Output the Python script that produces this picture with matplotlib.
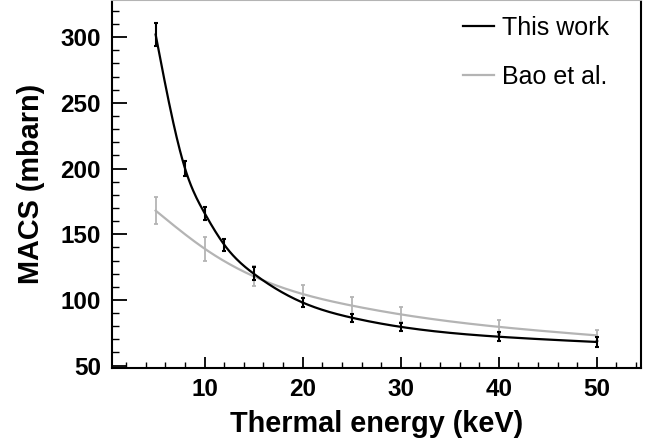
import numpy as np
import matplotlib
matplotlib.use("Agg")
import matplotlib.pyplot as plt
from matplotlib.ticker import MultipleLocator

# Data
this_x = [5, 8, 10, 12, 15, 20, 25, 30, 40, 50]
this_y = [302, 200, 166, 142, 120, 98, 86.5, 79.5, 72, 68]
this_err = [9, 6, 5, 4.5, 5, 3.5, 3, 3, 3.3, 3.8]

bao_x = [5, 10, 15, 20, 25, 30, 40, 50]
bao_y = [168, 139, 118, 104.5, 95.7, 89, 79.5, 73]
bao_err = [10, 9, 7.6, 7, 6.4, 6, 5.3, 4.3]

x_ticks = [10, 20, 30, 40, 50]
y_ticks = [50, 100, 150, 200, 250, 300]

BLACK = "#000000"
GRAY = "#b4b4b4"


def smooth(xs, ys, n=400):
    """Natural cubic spline through the points (drawing style, like ROOT 'C')."""
    x = np.asarray(xs, float)
    y = np.asarray(ys, float)
    m = len(x)
    h = np.diff(x)
    A = np.zeros((m, m))
    b = np.zeros(m)
    A[0, 0] = A[-1, -1] = 1.0
    for i in range(1, m - 1):
        A[i, i - 1] = h[i - 1]
        A[i, i] = 2 * (h[i - 1] + h[i])
        A[i, i + 1] = h[i]
        b[i] = 3 * ((y[i + 1] - y[i]) / h[i] - (y[i] - y[i - 1]) / h[i - 1])
    c = np.linalg.solve(A, b)
    xx = np.linspace(x[0], x[-1], n)
    idx = np.clip(np.searchsorted(x, xx) - 1, 0, m - 2)
    dx = xx - x[idx]
    bb = (y[idx + 1] - y[idx]) / h[idx] - h[idx] * (2 * c[idx] + c[idx + 1]) / 3
    dd = (c[idx + 1] - c[idx]) / (3 * h[idx])
    yy = y[idx] + bb * dx + c[idx] * dx ** 2 + dd * dx ** 3
    return xx, yy


plt.rcParams["font.family"] = ["Liberation Sans", "DejaVu Sans"]

fig = plt.figure(figsize=(6.58, 4.48), dpi=100)
ax = fig.add_axes([0.1702, 0.1786, 0.8047, 0.8214])

bx, by = smooth(bao_x, bao_y)
ax.plot(bx, by, color=GRAY, lw=1.6, label="Bao et al.", zorder=2)
ax.errorbar(bao_x, bao_y, yerr=bao_err, fmt="none", ecolor=GRAY,
            elinewidth=1.3, capsize=1.6, capthick=1.3, zorder=2)

tx, ty = smooth(this_x, this_y)
ax.plot(tx, ty, color=BLACK, lw=1.6, label="This work", zorder=3)
ax.errorbar(this_x, this_y, yerr=this_err, fmt="none", ecolor=BLACK,
            elinewidth=1.5, capsize=1.6, capthick=1.5, zorder=3)

ax.set_xlim(0.55, 54.55)
ax.set_ylim(48.2, 328.3)

ax.set_xticks(x_ticks)
ax.set_yticks(y_ticks)
ax.xaxis.set_minor_locator(MultipleLocator(2))
ax.yaxis.set_minor_locator(MultipleLocator(10))

ax.tick_params(axis="x", which="major", direction="in", length=8, width=1.3,
               pad=7, labelsize=17.5)
ax.tick_params(axis="x", which="minor", direction="in", length=4.3, width=1.0)
ax.tick_params(axis="y", which="major", direction="in", length=10.8, width=1.3,
               pad=8, labelsize=17.5)
ax.tick_params(axis="y", which="minor", direction="in", length=5, width=1.0)
for lab in ax.get_xticklabels() + ax.get_yticklabels():
    lab.set_fontweight("bold")

for side in ["left", "bottom", "right"]:
    ax.spines[side].set_color(BLACK)
    ax.spines[side].set_linewidth(1.5)
ax.spines["top"].set_color(GRAY)
ax.spines["top"].set_linewidth(1.5)

ax.set_xlabel("Thermal energy (keV)", fontsize=20.8, fontweight="bold", labelpad=7)
ax.set_ylabel("MACS (mbarn)", fontsize=20.8, fontweight="bold", labelpad=11)

handles, labels = ax.get_legend_handles_labels()
order = [1, 0]
leg = ax.legend([handles[i] for i in order], [labels[i] for i in order],
                loc="upper right", bbox_to_anchor=(0.971, 1.005), frameon=False,
                fontsize=18, handlelength=1.25, handletextpad=0.3,
                labelspacing=1.0, borderaxespad=0.3)

fig.savefig("out.png", dpi=100)
